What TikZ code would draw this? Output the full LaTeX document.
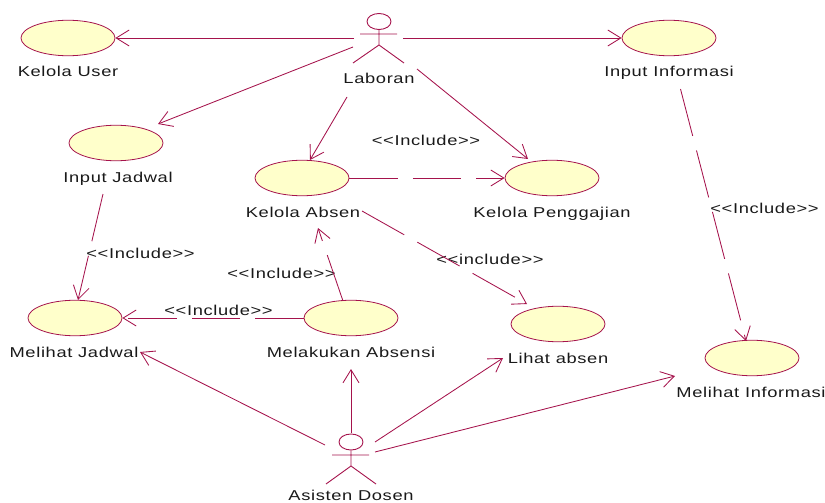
\documentclass[tikz,border=0pt]{standalone}
\usepackage{fontspec}
\setmainfont{Liberation Sans}[FakeStretch=1.28,LetterSpace=4.5]
\usetikzlibrary{shapes.geometric,arrows.meta}
\definecolor{umlline}{HTML}{A5134C}
\definecolor{umlfill}{HTML}{FFFFCB}
\newcommand{\incltext}[1]{<{}<#1>{}>}
\tikzset{
  usecase/.style={ellipse,draw=umlline,fill=umlfill,line width=0.8pt,minimum width=94pt,minimum height=35.5pt,inner sep=0pt},
  lbl/.style={font=\fontsize{14.3}{16}\selectfont,text=black!90,inner sep=0pt,anchor=base},
  assoc/.style={draw=umlline,line width=0.85pt,-{Straight Barb[length=13pt,width=16pt,line width=0.85pt]}},
  incl/.style={assoc,dash pattern=on 48.5pt off 15pt},
  actorline/.style={draw=umlline,line width=0.9pt}
}
\begin{document}
\begin{tikzpicture}[x=1pt,y=-1pt]
\useasboundingbox (0,0) rectangle (825,503);
% use cases
\node[usecase] (user) at (68,38) {};
\node[usecase] (info) at (669,38) {};
\node[usecase] (jadwal) at (116,143) {};
\node[usecase] (absen) at (302,178) {};
\node[usecase] (gaji) at (552,178) {};
\node[usecase] (mjadwal) at (75,318) {};
\node[usecase] (melakukan) at (351,318) {};
\node[usecase] (lihat) at (558,324) {};
\node[usecase] (minfo) at (752,358) {};
% actors
\node[ellipse,actorline,minimum width=24pt,minimum height=16pt,inner sep=0pt] (laboranhead) at (379,21.5) {};
\coordinate (lhip) at (379,45);
\coordinate (ll) at (360,34);
\coordinate (lr) at (397,34);
\coordinate (lfl) at (353,63);
\coordinate (lfr) at (404,63);
\draw[actorline] (laboranhead.south) -- (lhip) (ll) -- (lr) (lfl) -- (lhip) -- (lfr);
\node[ellipse,actorline,minimum width=24pt,minimum height=16pt,inner sep=0pt] (asistenhead) at (351,442) {};
\coordinate (ahip) at (351,466);
\coordinate (al) at (332,455);
\coordinate (ar) at (369,455);
\coordinate (afl) at (326,484);
\coordinate (afr) at (376,484);
\draw[actorline] (asistenhead.south) -- (ahip) (al) -- (ar) (afl) -- (ahip) -- (afr);
% labels
\node[lbl] (t1) at (68,77) {Kelola User};
\node[lbl] (t2) at (379,84) {Laboran};
\node[lbl] (t3) at (669,77) {Input Informasi};
\node[lbl] (t4) at (118,182) {Input Jadwal};
\node[lbl] (t5) at (303,217) {Kelola Absen};
\node[lbl] (t6) at (552,217) {Kelola Penggajian};
\node[lbl] (t7) at (74,357) {Melihat Jadwal};
\node[lbl] (t8) at (351,357) {Melakukan Absensi};
\node[lbl] (t9) at (558,363) {Lihat absen};
\node[lbl] (t10) at (751,397) {Melihat Informasi};
\node[lbl] (t11) at (351,500) {Asisten Dosen};
\node[lbl] (i1) at (426,145) {\incltext{Include}};
\node[lbl] (i2) at (140.5,258.5) {\incltext{Include}};
\node[lbl] (i3) at (281.5,278.5) {\incltext{Include}};
\node[lbl] (i4) at (218.5,315.5) {\incltext{Include}};
\node[lbl] (i5) at (490,264) {\incltext{include}};
\node[lbl] (i6) at (764.5,213) {\incltext{Include}};
% free ends of connectors
\coordinate (a1) at (354,38);
\coordinate (a2) at (403,38);
\coordinate (a3) at (353,47);
\coordinate (a4) at (347,97);
\coordinate (a5) at (417,69);
\coordinate (b1) at (325,445);
\coordinate (b2) at (351,433);
\coordinate (b3) at (375,442);
\coordinate (b4) at (375,452);
\coordinate (e1) at (140,352);
\coordinate (e2) at (351,369);
\coordinate (e3) at (503,358);
\coordinate (e4) at (675,376);
\coordinate (s1) at (103,194);
\coordinate (s2) at (362,211);
\coordinate (s3) at (680.5,89);
\coordinate (e5) at (318,228);
\coordinate (e6) at (527,304);
\coordinate (e7) at (746,341);
\coordinate (s4) at (343,301);
\coordinate (e8) at (78,300);
\coordinate (e9) at (158,124);
\coordinate (e10) at (310,160);
\coordinate (e11) at (528,159);
% associations
\draw[assoc] (a1) -- (user.east);
\draw[assoc] (a2) -- (info.west);
\draw[assoc] (a3) -- (e9);
\draw[assoc] (a4) -- (e10);
\draw[assoc] (a5) -- (e11);
\draw[assoc] (b1) -- (e1);
\draw[assoc] (b2) -- (e2);
\draw[assoc] (b3) -- (e3);
\draw[assoc] (b4) -- (e4);
% includes
\draw[incl] (absen.east) -- (gaji.west);
\draw[incl] (melakukan.west) -- (mjadwal.east);
\draw[incl] (s1) -- (e8);
\draw[incl] (s4) -- (e5);
\draw[incl] (s2) -- (e6);
\draw[incl] (s3) -- (e7);
\end{tikzpicture}
\end{document}
